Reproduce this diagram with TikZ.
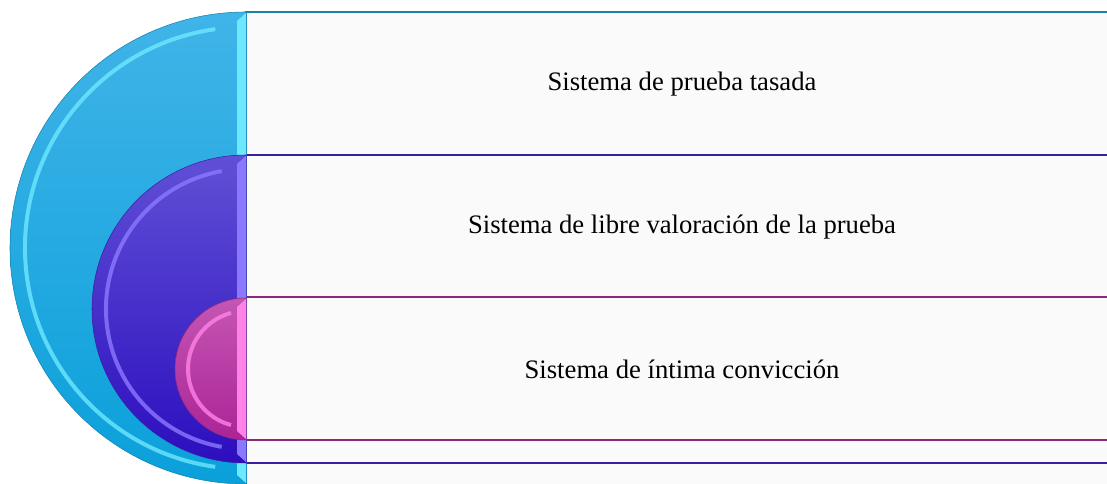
\documentclass[tikz,border=0pt]{standalone}
\usepackage{fontspec}
\setmainfont{Liberation Serif}
\usetikzlibrary{positioning}

\definecolor{azulA}{RGB}{64,180,232}
\definecolor{azulB}{RGB}{10,160,218}
\definecolor{azulL}{RGB}{110,232,255}
\definecolor{azulD}{RGB}{24,130,170}
\definecolor{moraA}{RGB}{96,80,214}
\definecolor{moraB}{RGB}{44,14,190}
\definecolor{moraL}{RGB}{140,120,255}
\definecolor{moraD}{RGB}{60,30,160}
\definecolor{rosaA}{RGB}{196,86,180}
\definecolor{rosaB}{RGB}{172,36,150}
\definecolor{rosaL}{RGB}{255,130,230}
\definecolor{rosaD}{RGB}{140,40,120}
\definecolor{caja}{RGB}{250,250,250}

\tikzset{
  etiqueta/.style={anchor=center, inner sep=0.75pt, font=\fontsize{20}{22}\selectfont},
  brillo/.style={line width=3, opacity=0.8},
}

\begin{document}
\begin{tikzpicture}[x=0.75pt,y=0.75pt,yscale=-1,xscale=1]
\useasboundingbox (0,0) rectangle (1107,484);

%Boxes
\fill [caja] (246,12) rectangle (1107,484);
\draw [azulD, line width=1.8] (1107,12) -- (246,12) -- (246,484) ;
\draw [moraD, line width=1.8] (1107,155) -- (246,155) -- (246,463) -- (1107,463) ;
\draw [rosaD, line width=1.8] (1107,297) -- (246,297) -- (246,440) -- (1107,440) ;

%Shape: big half disc
\shade [top color=azulA, bottom color=azulB, draw=azulD] (246,12) arc [start angle=270, end angle=90, radius=236] -- cycle ;
\draw [azulL, brillo] ([shift={(262:221)}]246,248) arc [start angle=262, end angle=98, radius=221] ;
\fill [azulL] (237,21) -- (246,13) -- (246,483) -- (237,475) -- cycle ;

%Shape: middle half disc
\shade [top color=moraA, bottom color=moraB, draw=moraD] (246,155) arc [start angle=270, end angle=90, radius=154] -- cycle ;
\draw [moraL, brillo] ([shift={(260:140)}]246,309) arc [start angle=260, end angle=100, radius=140] ;
\fill [moraL] (237,164) -- (246,156) -- (246,462) -- (237,454) -- cycle ;

%Shape: small half disc
\shade [top color=rosaA, bottom color=rosaB, draw=rosaD] (246,298) arc [start angle=270, end angle=90, radius=71] -- cycle ;
\draw [rosaL, brillo] ([shift={(255:58)}]246,369) arc [start angle=255, end angle=105, radius=58] ;
\fill [rosaL] (237,307) -- (246,299) -- (246,439) -- (237,431) -- cycle ;

% Text Node
\node [etiqueta] (tasada) at (682,84) {Sistema de prueba tasada};
% Text Node
\node [etiqueta] (libre) at (682,227) {Sistema de libre valoración de la prueba};
% Text Node
\node [etiqueta] (intima) at (682,369) {Sistema de íntima convicción};

\end{tikzpicture}
\end{document}
